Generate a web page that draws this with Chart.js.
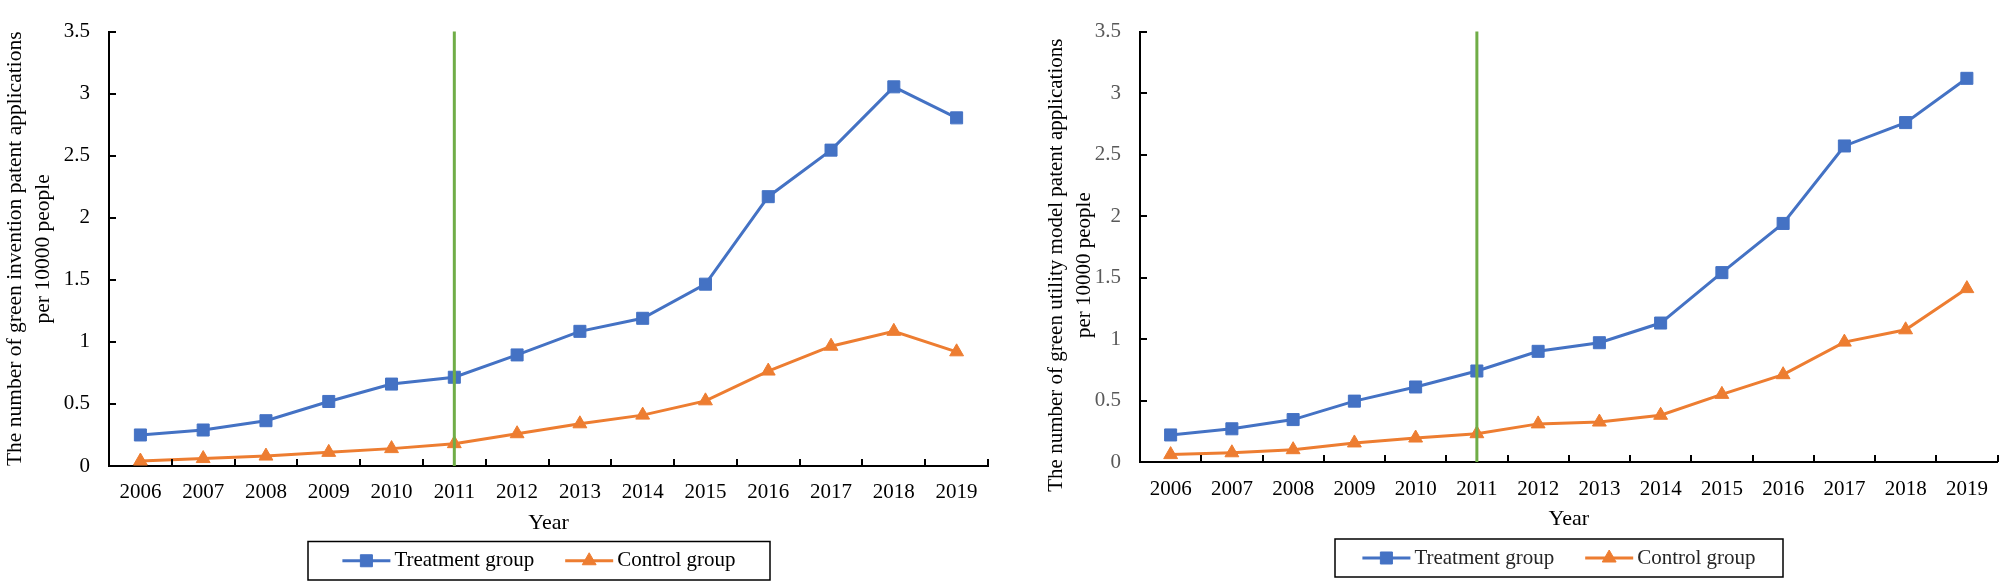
<!DOCTYPE html>
<html>
<head>
<meta charset="utf-8">
<script src="https://cdn.jsdelivr.net/npm/chart.js@4.4.1/dist/chart.umd.min.js"></script>
<style>
    body { margin: 0; background: #fff; width: 2007px; height: 588px; position: relative; overflow: hidden; }
    .panel { position: absolute; top: 0; height: 588px; }
    #panelLeft  { left: 0;      width: 1000px; }
    #panelRight { left: 1000px; width: 1007px; }
</style>
</head>
<body>
<div class="panel" id="panelLeft"><canvas id="chartLeft"></canvas></div>
<div class="panel" id="panelRight"><canvas id="chartRight"></canvas></div>
<script>
// ── 데이터 ──────────────────────────────────────────────
const years = ['2006', '2007', '2008', '2009', '2010', '2011', '2012',
               '2013', '2014', '2015', '2016', '2017', '2018', '2019'];
const policyYear = '2011';

const inventionTreatment = [0.25, 0.29, 0.365, 0.52, 0.66, 0.715, 0.895, 1.085, 1.19, 1.465, 2.17, 2.545, 3.055, 2.805];
const inventionControl   = [0.04, 0.06, 0.08, 0.11, 0.14, 0.18, 0.26, 0.34, 0.41, 0.525, 0.765, 0.965, 1.085, 0.92];

const utilityTreatment = [0.22, 0.27, 0.345, 0.495, 0.61, 0.74, 0.9, 0.97, 1.13, 1.54, 1.94, 2.57, 2.76, 3.12];
const utilityControl   = [0.06, 0.075, 0.1, 0.155, 0.195, 0.23, 0.31, 0.325, 0.38, 0.55, 0.71, 0.975, 1.075, 1.41];

const yTickLabels = ['0', '0.5', '1', '1.5', '2', '2.5', '3', '3.5'];
const yMax = 3.5;

const seriesNames = ['Treatment group', 'Control group'];

// 색상 (Excel 기본 팔레트)
const BLUE   = '#4472C4';
const ORANGE = '#ED7D31';
const GREEN  = '#70AD47';
const FONT   = '"Liberation Serif", "Times New Roman", serif';

Chart.defaults.font.family = FONT;
Chart.defaults.color = '#000';

// ── 플러그인: 안쪽 눈금 ─────────────────────────────────
const innerTicks = {
    id: 'innerTicks',
    afterDraw(chart) {
        const { ctx, chartArea, scales: { x, y } } = chart;
        ctx.save();
        ctx.strokeStyle = '#000';
        ctx.lineWidth = 2;
        ctx.beginPath();
        y.ticks.forEach(t => {
            const py = Math.round(y.getPixelForValue(t.value));
            ctx.moveTo(chartArea.left, py);
            ctx.lineTo(chartArea.left + 7, py);
        });
        const n = x.ticks.length;
        const step = (x.right - x.left) / n;
        for (let i = 1; i <= n; i++) {
            const px = Math.round(x.left + i * step);
            ctx.moveTo(px, chartArea.bottom);
            ctx.lineTo(px, chartArea.bottom - 7);
        }
        ctx.stroke();
        ctx.restore();
    }
};

// ── 플러그인: 테두리 범례 ───────────────────────────────
function drawMarker(ctx, style, cx, cy, r, color) {
    ctx.fillStyle = color;
    ctx.strokeStyle = color;
    ctx.lineWidth = 1;
    ctx.beginPath();
    if (style === 'rect') {
        const s = r * Math.SQRT1_2;
        ctx.rect(cx - s, cy - s, 2 * s, 2 * s);
    } else {
        ctx.moveTo(cx, cy - r);
        ctx.lineTo(cx + r * Math.sin(Math.PI / 3), cy + r * 0.5);
        ctx.lineTo(cx - r * Math.sin(Math.PI / 3), cy + r * 0.5);
        ctx.closePath();
    }
    ctx.fill();
    ctx.stroke();
}

const boxLegend = {
    id: 'boxLegend',
    afterDraw(chart, args, opts) {
        const { ctx } = chart;
        const [bx, by, bw, bh] = opts.box;
        const items = chart.data.datasets.filter(d => !d.hideInLegend);
        ctx.save();
        ctx.font = '21px ' + FONT;
        ctx.textBaseline = 'middle';
        const lineLen = 48, gap = 4, itemGap = 31;
        const widths = items.map(d => lineLen + gap + ctx.measureText(d.label).width);
        const total = widths.reduce((a, b) => a + b, 0) + itemGap * (items.length - 1);
        let x = bx + (bw - total) / 2;
        const cy = by + bh / 2;

        ctx.strokeStyle = '#000';
        ctx.lineWidth = 1.5;
        ctx.strokeRect(bx, by, bw, bh);

        items.forEach((d, i) => {
            ctx.strokeStyle = d.borderColor;
            ctx.lineWidth = 3;
            ctx.beginPath();
            ctx.moveTo(x, cy);
            ctx.lineTo(x + lineLen, cy);
            ctx.stroke();
            drawMarker(ctx, d.pointStyle, x + lineLen / 2, cy, d.pointRadius, d.borderColor);
            ctx.fillStyle = opts.textColor;
            ctx.fillText(d.label, x + lineLen + gap, cy);
            x += widths[i] + itemGap;
        });
        ctx.restore();
    }
};

// ── 차트 생성 ───────────────────────────────────────────
function makeChart(canvasId, cfg) {
    return new Chart(document.getElementById(canvasId), {
        type: 'line',
        data: {
            labels: years,
            datasets: [
                {
                    label: 'policy',
                    hideInLegend: true,
                    data: [{ x: policyYear, y: 0 }, { x: policyYear, y: yMax }],
                    borderColor: GREEN,
                    borderWidth: 3,
                    pointRadius: 0,
                    clip: false,
                    order: 0,
                },
                {
                    label: seriesNames[0],
                    data: cfg.treatment,
                    borderColor: BLUE,
                    backgroundColor: BLUE,
                    borderWidth: 3,
                    pointStyle: 'rect',
                    pointRadius: 8.5,
                    pointBorderWidth: 1,
                    pointBackgroundColor: BLUE,
                    pointBorderColor: BLUE,
                    order: 1,
                },
                {
                    label: seriesNames[1],
                    data: cfg.control,
                    borderColor: ORANGE,
                    backgroundColor: ORANGE,
                    borderWidth: 3,
                    pointStyle: 'triangle',
                    pointRadius: 8,
                    pointBorderWidth: 1,
                    pointBackgroundColor: ORANGE,
                    pointBorderColor: ORANGE,
                    order: 2,
                },
            ],
        },
        options: {
            responsive: true,
            maintainAspectRatio: false,
            animation: false,
            devicePixelRatio: 1,
            layout: { padding: cfg.padding },
            plugins: {
                legend: { display: false },
                tooltip: { enabled: false },
                boxLegend: { box: cfg.legendBox, textColor: cfg.legendColor },
            },
            scales: {
                x: {
                    offset: true,
                    grid: { display: false, drawTicks: false },
                    border: { display: true, color: '#000', width: 2 },
                    ticks: { color: '#000', font: { size: 21 }, padding: cfg.xPad, maxRotation: 0, autoSkip: false },
                    title: { display: true, text: 'Year', color: '#000', font: { size: 22 }, padding: { top: 0, bottom: cfg.titlePad } },
                    afterFit: s => { s.height = cfg.xHeight; },
                },
                y: {
                    min: 0,
                    max: yMax,
                    grid: { display: false, drawTicks: false },
                    border: { display: true, color: '#000', width: 2 },
                    ticks: {
                        stepSize: 0.5,
                        color: cfg.yTickColor,
                        font: { size: 21 },
                        padding: 19,
                        callback: (v, i) => yTickLabels[i],
                    },
                    title: {
                        display: true,
                        text: cfg.yTitle,
                        color: '#000',
                        font: { size: cfg.yTitleSize, lineHeight: '28px' },
                        padding: { top: 1, bottom: 0 },
                    },
                    afterFit: s => { s.width = cfg.yWidth; },
                },
            },
        },
        plugins: [innerTicks, boxLegend],
    });
}

makeChart('chartLeft', {
    treatment: inventionTreatment,
    control: inventionControl,
    yTitle: ['The number of green invention patent applications', 'per 10000 people'],
    yTitleSize: 21.5,
    yTickColor: '#000',
    legendColor: '#000',
    padding: { top: 15, left: 0, right: 12, bottom: 43 },
    yWidth: 109,
    xHeight: 79,
    xPad: 14,
    titlePad: 9,
    legendBox: [308, 541.5, 462, 38.5],
});

makeChart('chartRight', {
    treatment: utilityTreatment,
    control: utilityControl,
    yTitle: ['The number of green utility model patent applications       ', 'per 10000 people       '],
    yTitleSize: 21,
    yTickColor: '#595959',
    legendColor: '#262626',
    padding: { top: 23, left: 41, right: 9, bottom: 45 },
    yWidth: 99,
    xHeight: 81,
    xPad: 15,
    titlePad: 11,
    legendBox: [335, 539, 448, 38],
});
</script>
</body>
</html>
